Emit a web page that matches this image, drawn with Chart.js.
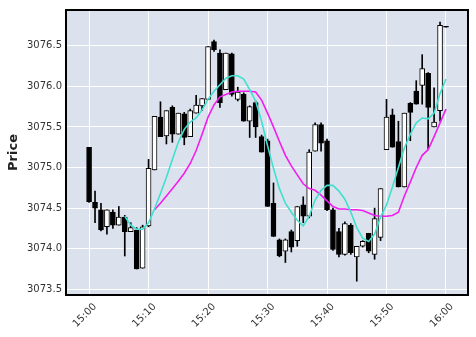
<!DOCTYPE html>
<html>
<head>
<meta charset="utf-8">
<script src="https://cdn.jsdelivr.net/npm/chart.js@4.4.1/dist/chart.umd.min.js"></script>
<style>
  html, body { margin: 0; padding: 0; background: #fff; }
  #wrap { width: 476px; height: 337px; }
</style>
</head>
<body>
<div id="wrap"><canvas id="priceChart" width="476" height="337"></canvas></div>
<script>
// minutes after 15:00, one candle per minute
const minutes = [];
for (let m = 0; m <= 60; m++) minutes.push(m);

const opens = [
  3075.25, 3074.57, 3074.48, 3074.27, 3074.45, 3074.29, 3074.39, 3074.21, 3074.23, 3073.76,
  3074.28, 3074.97, 3075.62, 3075.39, 3075.74, 3075.41, 3075.66, 3075.38, 3075.67, 3075.76,
  3075.84, 3076.55, 3076.41, 3075.96, 3076.40, 3075.84, 3075.90, 3075.57, 3075.80, 3075.38,
  3075.33, 3074.56, 3074.11, 3073.97, 3074.21, 3074.10, 3074.54, 3074.40, 3075.20, 3075.53,
  3075.33, 3074.48, 3074.21, 3073.93, 3074.29, 3073.90, 3074.03, 3074.19, 3073.93, 3074.14,
  3075.22, 3075.65, 3075.32, 3074.76, 3075.79, 3075.94, 3076.01, 3076.16, 3075.50, 3075.70,
  3076.74
];
const highs = [
  3075.25, 3074.71, 3074.56, 3074.48, 3074.48, 3074.52, 3074.41, 3074.32, 3074.26, 3074.29,
  3075.10, 3075.63, 3075.81, 3075.70, 3075.76, 3075.67, 3075.68, 3075.72, 3075.89, 3075.85,
  3076.49, 3076.57, 3076.45, 3076.41, 3076.41, 3075.99, 3075.92, 3075.76, 3075.82, 3075.40,
  3075.35, 3074.81, 3074.12, 3074.12, 3074.23, 3074.52, 3074.64, 3075.22, 3075.55, 3075.55,
  3075.35, 3074.50, 3074.25, 3074.33, 3074.31, 3074.03, 3074.10, 3074.19, 3074.50, 3074.74,
  3075.84, 3075.72, 3075.57, 3075.67, 3075.80, 3076.07, 3076.39, 3076.17, 3075.98, 3076.79,
  3076.74
];
const lows = [
  3074.57, 3074.32, 3074.22, 3074.18, 3074.25, 3074.29, 3073.91, 3074.21, 3073.75, 3073.76,
  3074.27, 3074.97, 3075.38, 3075.29, 3075.31, 3075.41, 3075.28, 3075.38, 3075.67, 3075.70,
  3075.84, 3076.43, 3075.74, 3075.96, 3075.88, 3075.82, 3075.57, 3075.37, 3075.37, 3075.19,
  3074.52, 3074.15, 3073.90, 3073.83, 3073.96, 3074.03, 3074.32, 3074.38, 3075.20, 3075.20,
  3074.47, 3073.98, 3073.90, 3073.92, 3073.93, 3073.60, 3074.02, 3073.95, 3073.87, 3074.10,
  3075.22, 3075.25, 3074.76, 3074.76, 3075.33, 3075.78, 3075.78, 3075.23, 3075.50, 3075.57,
  3076.73
];
const closes = [
  3074.58, 3074.50, 3074.23, 3074.48, 3074.29, 3074.39, 3074.21, 3074.26, 3073.75, 3074.27,
  3074.99, 3075.63, 3075.38, 3075.70, 3075.41, 3075.67, 3075.37, 3075.70, 3075.77, 3075.85,
  3076.49, 3076.45, 3075.80, 3076.41, 3075.90, 3075.93, 3075.57, 3075.75, 3075.50, 3075.19,
  3074.52, 3074.15, 3073.91, 3074.11, 3074.02, 3074.52, 3074.40, 3075.19, 3075.53, 3075.30,
  3074.48, 3073.99, 3073.93, 3074.31, 3073.95, 3074.03, 3074.09, 3073.97, 3074.37, 3074.74,
  3075.62, 3075.25, 3074.76, 3075.67, 3075.68, 3075.78, 3076.22, 3075.74, 3075.56, 3076.75,
  3076.73
];

// moving average lines
const maFast = [
  null, null, null, null, null, null, 3074.40, 3074.29, 3074.24, 3074.24,
  3074.32, 3074.49, 3074.68, 3074.88, 3075.10, 3075.31, 3075.47, 3075.56, 3075.61, 3075.71,
  3075.84, 3075.94, 3076.02, 3076.10, 3076.13, 3076.13, 3076.09, 3075.96, 3075.82, 3075.57,
  3075.27, 3074.99, 3074.74, 3074.56, 3074.45, 3074.35, 3074.28, 3074.40, 3074.60, 3074.72,
  3074.78, 3074.78, 3074.71, 3074.61, 3074.45, 3074.26, 3074.13, 3074.09, 3074.18, 3074.39,
  3074.54, 3074.76, 3075.00, 3075.24, 3075.41, 3075.55, 3075.61, 3075.60, 3075.67, 3075.91,
  3076.09
];
const maSlow = [
  null, null, null, null, null, null, null, null, null, null,
  null, 3074.48, 3074.56, 3074.65, 3074.74, 3074.83, 3074.93, 3075.05, 3075.21, 3075.41,
  3075.62, 3075.77, 3075.87, 3075.90, 3075.93, 3075.94, 3075.94, 3075.94, 3075.93, 3075.83,
  3075.67, 3075.50, 3075.32, 3075.15, 3075.02, 3074.91, 3074.80, 3074.74, 3074.72, 3074.66,
  3074.59, 3074.52, 3074.49, 3074.49, 3074.48, 3074.48, 3074.47, 3074.44, 3074.41, 3074.40,
  3074.40, 3074.41, 3074.45, 3074.65, 3074.82, 3075.00, 3075.15, 3075.22, 3075.38, 3075.55,
  3075.72
];

const yTicks = [3073.5, 3074.0, 3074.5, 3075.0, 3075.5, 3076.0, 3076.5];
const xTickMinutes = [0, 10, 20, 30, 40, 50, 60];

function timeLabel(m) {
  const h = 15 + Math.floor(m / 60);
  const mm = m % 60;
  return h + ':' + String(mm).padStart(2, '0');
}

const wicks = minutes.map((m, i) => ({ x: m, y: [lows[i], highs[i]] }));
const bodies = minutes.map((m, i) => ({ x: m, y: [opens[i], closes[i]] }));
const bodyColors = minutes.map((m, i) => closes[i] >= opens[i] ? '#ffffff' : '#000000');

// plot background and frame
const framePlugin = {
  id: 'frame',
  beforeDraw(chart) {
    const { ctx, chartArea: a } = chart;
    ctx.save();
    ctx.fillStyle = '#dce2ed';
    ctx.fillRect(a.left, a.top, a.right - a.left, a.bottom - a.top);
    ctx.restore();
  },
  afterDraw(chart) {
    const { ctx, chartArea: a } = chart;
    ctx.save();
    ctx.strokeStyle = '#000';
    ctx.lineWidth = 2;
    ctx.strokeRect(a.left, a.top, a.right - a.left, a.bottom - a.top);
    ctx.restore();
  }
};

const ctx = document.getElementById('priceChart').getContext('2d');
new Chart(ctx, {
  type: 'bar',
  data: {
    datasets: [
      {
        type: 'line', data: minutes.map((m, i) => ({ x: m, y: maFast[i] })),
        borderColor: '#40e0d0', borderWidth: 1.6, pointRadius: 0, spanGaps: false, order: 0
      },
      {
        type: 'line', data: minutes.map((m, i) => ({ x: m, y: maSlow[i] })),
        borderColor: '#f01ef0', borderWidth: 1.6, pointRadius: 0, spanGaps: false, order: 1
      },
      {
        data: bodies, backgroundColor: bodyColors, borderColor: '#000', borderWidth: 1,
        borderSkipped: false, barThickness: 5, grouped: false, order: 2
      },
      {
        data: wicks, backgroundColor: '#000', borderWidth: 0,
        barThickness: 1, grouped: false, order: 3
      }
    ]
  },
  options: {
    responsive: false,
    animation: false,
    layout: { padding: { left: 0, top: 7, right: 8, bottom: 0 } },
    plugins: { legend: { display: false }, tooltip: { enabled: false } },
    scales: {
      x: {
        type: 'linear',
        offset: false,
        min: -3.88,
        max: 63.7,
        afterFit(scale) { scale.height = 42; },
        afterBuildTicks(scale) { scale.ticks = xTickMinutes.map(v => ({ value: v })); },
        grid: { color: '#ffffff', lineWidth: 1, drawTicks: false, offset: false },
        border: { display: false },
        ticks: {
          maxRotation: 45, minRotation: 45, padding: 6, labelOffset: 6,
          color: '#333', font: { family: 'DejaVu Sans', size: 10 },
          callback: v => timeLabel(v)
        }
      },
      y: {
        min: 3073.43,
        max: 3076.94,
        afterFit(scale) { scale.width = 66; },
        afterBuildTicks(scale) { scale.ticks = yTicks.map(v => ({ value: v })); },
        grid: { color: '#ffffff', lineWidth: 1, drawTicks: false },
        border: { display: false },
        ticks: {
          padding: 4, color: '#333', font: { family: 'DejaVu Sans', size: 10 },
          callback: v => v.toFixed(1)
        },
        title: {
          display: true, text: 'Price', color: '#222',
          font: { family: 'DejaVu Sans', size: 13, weight: 'bold' },
          padding: { top: 6, bottom: 0 }
        }
      }
    }
  },
  plugins: [framePlugin]
});
</script>
</body>
</html>
